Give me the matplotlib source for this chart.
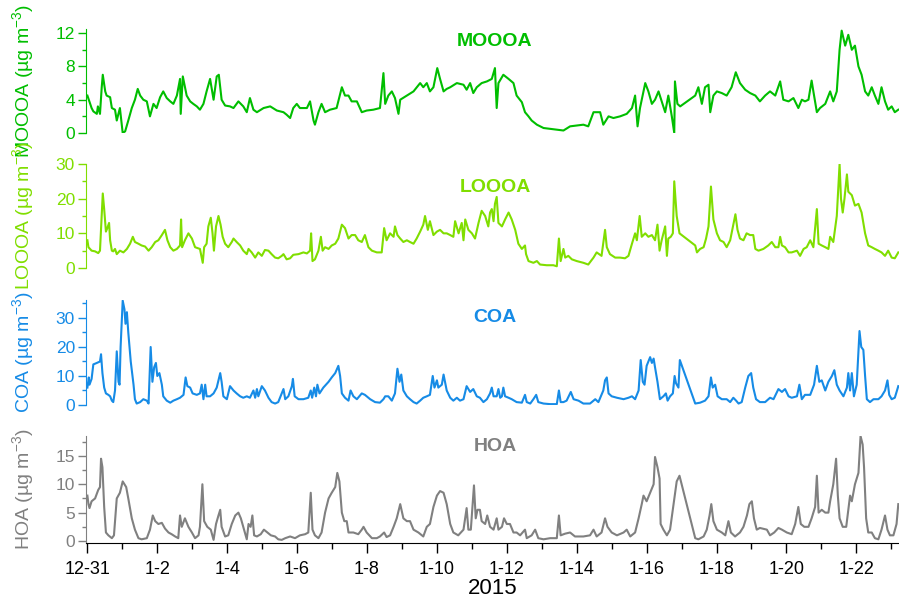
import matplotlib
matplotlib.use("Agg")
import matplotlib.pyplot as plt
from matplotlib.ticker import MultipleLocator, FixedLocator

plt.rcParams['font.family'] = ['Liberation Sans', 'DejaVu Sans']
plt.rcParams['mathtext.fontset'] = 'custom'
plt.rcParams['mathtext.rm'] = 'Liberation Sans'
plt.rcParams['mathtext.it'] = 'Liberation Sans:italic'

# time axis: days since 2014-12-31 00:00
tick_days = [0, 2, 4, 6, 8, 10, 12, 14, 16, 18, 20, 22]
tick_labels = ["12-31", "1-2", "1-4", "1-6", "1-8", "1-10", "1-12",
               "1-14", "1-16", "1-18", "1-20", "1-22"]

moooa_t = [0.00, 0.12, 0.17, 0.27, 0.30, 0.36, 0.41, 0.44, 0.51, 0.55, 0.65, 0.70, 0.79, 0.84, 0.93,
           1.01, 1.08, 1.17, 1.27, 1.36, 1.44, 1.51, 1.60, 1.70, 1.79, 1.89, 1.98, 2.08, 2.17, 2.27,
           2.37, 2.46, 2.56, 2.65, 2.67, 2.73, 2.84, 2.94, 3.03, 3.13, 3.22, 3.32, 3.41, 3.51, 3.61,
           3.70, 3.76, 3.84, 3.94, 4.08, 4.18, 4.32, 4.46, 4.56, 4.65, 4.75, 4.85, 5.04, 5.23, 5.42,
           5.61, 5.70, 5.80, 5.89, 5.99, 6.08, 6.28, 6.37, 6.47, 6.51, 6.61, 6.70, 6.80, 6.94, 7.13,
           7.28, 7.37, 7.47, 7.56, 7.71, 7.85, 7.99, 8.18, 8.37, 8.47, 8.52, 8.61, 8.71, 8.80, 8.90,
           8.95, 9.14, 9.33, 9.52, 9.61, 9.71, 9.80, 9.90, 10.01, 10.09, 10.19, 10.28, 10.38, 10.57,
           10.76, 10.85, 10.95, 11.04, 11.14, 11.28, 11.43, 11.57, 11.66, 11.71, 11.76, 11.90, 12.05,
           12.19, 12.28, 12.43, 12.52, 12.62, 12.71, 12.86, 13.05, 13.24, 13.43, 13.62, 13.81, 14.00,
           14.19, 14.33, 14.48, 14.67, 14.76, 14.91, 15.05, 15.24, 15.43, 15.58, 15.67, 15.74, 15.81,
           15.96, 16.05, 16.15, 16.24, 16.34, 16.43, 16.53, 16.62, 16.72, 16.79, 16.81, 16.88, 16.96,
           17.39, 17.48, 17.58, 17.67, 17.77, 17.82, 17.91, 18.01, 18.15, 18.29, 18.43, 18.55, 18.67,
           18.82, 18.96, 19.11, 19.24, 19.39, 19.53, 19.68, 19.82, 19.91, 20.06, 20.20, 20.34, 20.44,
           20.53, 20.63, 20.72, 20.77, 20.87, 20.96, 21.11, 21.25, 21.34, 21.44, 21.52, 21.58, 21.68,
           21.77, 21.87, 21.96, 22.06, 22.15, 22.25, 22.34, 22.44, 22.53, 22.63, 22.72, 22.82, 22.91,
           23.01, 23.10, 23.20]
moooa = [4.5, 3.0, 2.6, 2.3, 3.2, 2.3, 5.5, 7.0, 5.0, 4.5, 4.3, 3.0, 2.8, 1.5, 3.0,
         0.0, 0.2, 1.5, 3.0, 4.0, 5.3, 4.5, 4.0, 3.8, 2.0, 3.5, 3.0, 4.3, 5.0, 4.2,
         3.8, 3.5, 4.5, 6.5, 2.3, 6.8, 4.5, 3.8, 3.5, 3.2, 2.8, 3.5, 5.0, 6.5, 4.0,
         6.8, 7.0, 4.0, 3.3, 3.2, 3.0, 3.8, 3.2, 2.5, 4.2, 2.8, 2.5, 3.0, 3.2, 2.7,
         2.5, 2.2, 1.8, 3.0, 3.5, 3.0, 3.0, 3.8, 1.5, 1.0, 2.5, 3.5, 2.5, 2.8, 3.0,
         5.5, 4.5, 4.5, 3.8, 3.8, 2.5, 2.7, 2.8, 3.0, 7.2, 3.5, 4.5, 5.0, 4.2, 2.3,
         4.0, 4.5, 5.0, 6.0, 5.5, 6.0, 5.0, 5.5, 7.8, 6.5, 5.0, 5.3, 5.5, 6.0,
         5.8, 5.2, 6.0, 4.8, 5.5, 6.0, 6.2, 6.5, 7.8, 3.0, 6.0, 7.0, 6.5,
         6.0, 4.5, 3.7, 2.5, 2.0, 1.5, 1.0, 0.6, 0.5, 0.4, 0.3, 0.8, 0.9,
         1.0, 0.8, 2.5, 2.5, 1.0, 2.0, 1.8, 2.0, 2.3, 3.0, 4.5, 0.8, 3.0,
         6.0, 5.0, 3.5, 4.0, 5.0, 3.8, 2.5, 4.5, 2.0, 0.0, 6.2, 3.5, 3.2,
         4.5, 5.5, 3.5, 5.5, 5.8, 2.5, 4.5, 5.0, 4.8, 4.5, 5.5, 7.3, 6.0,
         5.2, 4.8, 4.5, 3.8, 4.5, 5.0, 4.5, 6.2, 4.0, 3.8, 4.2, 3.0, 4.0,
         3.8, 4.0, 6.3, 5.0, 2.5, 3.0, 3.5, 5.0, 3.8, 5.0, 10.0, 12.3, 10.5,
         11.8, 10.0, 10.5, 8.0, 7.0, 5.0, 4.5, 5.5, 4.5, 3.5, 5.5, 3.8, 2.8,
         3.2, 2.5, 2.8]

looa_t = [0.00, 0.03, 0.12, 0.22, 0.31, 0.36, 0.41, 0.44, 0.48, 0.53, 0.57, 0.62, 0.65, 0.70, 0.74,
          0.79, 0.84, 0.93, 1.03, 1.13, 1.22, 1.30, 1.36, 1.46, 1.55, 1.65, 1.75, 1.84, 1.94, 2.03,
          2.13, 2.22, 2.29, 2.37, 2.46, 2.56, 2.65, 2.68, 2.71, 2.79, 2.89, 2.99, 3.08, 3.22, 3.30,
          3.34, 3.41, 3.46, 3.53, 3.58, 3.62, 3.68, 3.75, 3.81, 3.87, 3.94, 4.03, 4.13, 4.18, 4.27,
          4.37, 4.46, 4.56, 4.61, 4.70, 4.80, 4.89, 4.99, 5.08, 5.18, 5.27, 5.37, 5.46, 5.56, 5.61,
          5.70, 5.80, 5.89, 6.04, 6.18, 6.28, 6.37, 6.40, 6.44, 6.51, 6.61, 6.68, 6.73, 6.80, 6.90,
          6.99, 7.09, 7.18, 7.28, 7.37, 7.47, 7.56, 7.66, 7.75, 7.85, 7.94, 8.04, 8.14, 8.28, 8.42,
          8.49, 8.56, 8.66, 8.76, 8.80, 8.87, 8.95, 9.04, 9.14, 9.23, 9.33, 9.42, 9.52, 9.61, 9.66,
          9.74, 9.80, 9.90, 10.00, 10.09, 10.19, 10.28, 10.38, 10.47, 10.52, 10.62, 10.71, 10.76,
          10.81, 10.90, 11.00, 11.09, 11.19, 11.28, 11.38, 11.47, 11.52, 11.57, 11.62, 11.66, 11.71,
          11.76, 11.86, 11.95, 12.05, 12.14, 12.24, 12.33, 12.43, 12.52, 12.55, 12.62, 12.76, 12.86,
          12.95, 13.14, 13.33, 13.43, 13.49, 13.54, 13.62, 13.67, 13.76, 13.86, 14.00, 14.19, 14.33,
          14.48, 14.57, 14.71, 14.81, 14.86, 14.95, 15.10, 15.24, 15.38, 15.48, 15.58, 15.67, 15.72,
          15.80, 15.86, 15.96, 16.05, 16.15, 16.24, 16.31, 16.37, 16.43, 16.53, 16.58, 16.62, 16.69,
          16.75, 16.79, 16.86, 16.94, 17.39, 17.44, 17.53, 17.63, 17.70, 17.77, 17.84, 17.91, 18.01,
          18.10, 18.20, 18.29, 18.39, 18.47, 18.54, 18.60, 18.67, 18.77, 18.86, 18.96, 19.05, 19.11,
          19.20, 19.34, 19.48, 19.58, 19.68, 19.77, 19.82, 19.87, 19.96, 20.06, 20.15, 20.30, 20.39,
          20.49, 20.58, 20.68, 20.77, 20.87, 20.92, 21.01, 21.11, 21.20, 21.25, 21.34, 21.44, 21.52,
          21.56, 21.61, 21.66, 21.73, 21.77, 21.87, 21.96, 22.06, 22.15, 22.25, 22.34, 22.44, 22.53,
          22.63, 22.72, 22.82, 22.91, 23.01, 23.10, 23.20]
looa = [8.0, 6.0, 5.0, 4.8, 4.3, 5.0, 15.0, 21.5, 17.0, 10.5, 11.5, 13.0, 8.0, 5.0, 4.8,
        5.5, 4.0, 5.0, 4.5, 5.5, 7.0, 9.0, 7.5, 7.0, 6.5, 6.2, 5.0, 6.0, 7.5, 8.0,
        9.5, 11.0, 8.0, 6.0, 5.0, 5.5, 6.5, 14.0, 6.0, 8.0, 10.0, 8.5, 6.0, 5.5, 1.5,
        6.0, 7.0, 12.0, 14.5, 10.0, 5.0, 12.0, 15.0, 12.5, 9.0, 7.0, 6.0, 7.5, 8.5, 7.5,
        6.5, 5.0, 4.0, 5.5, 4.5, 3.0, 4.5, 3.5, 5.2, 5.0, 4.0, 3.0, 2.8, 3.5, 4.0,
        2.5, 2.8, 3.8, 4.0, 4.5, 4.2, 5.0, 10.0, 2.0, 2.5, 5.0, 9.0, 5.0, 6.0, 5.5,
        6.5, 7.0, 8.5, 12.5, 11.5, 8.5, 9.5, 9.5, 8.0, 7.5, 9.5, 6.0, 5.0, 4.5, 4.5,
        11.5, 8.0, 10.0, 9.0, 12.0, 9.5, 8.5, 7.5, 8.0, 7.5, 7.0, 8.5, 10.5, 12.5, 15.0,
        11.0, 13.5, 9.5, 10.5, 11.0, 10.0, 10.0, 9.5, 9.0, 13.5, 10.0, 13.0, 8.0,
        14.0, 11.0, 10.0, 8.5, 13.0, 16.5, 15.0, 12.0, 16.0, 17.0, 13.5, 18.5, 20.5,
        13.0, 12.0, 14.0, 16.0, 14.0, 11.0, 7.0, 5.5, 6.5, 4.0, 2.0, 1.5, 2.0,
        1.0, 0.8, 0.8, 0.5, 8.5, 2.0, 5.5, 3.0, 3.5, 2.5, 2.0, 1.5, 1.0,
        3.0, 4.5, 3.5, 11.0, 6.0, 4.0, 3.0, 3.0, 2.8, 3.5, 7.0, 10.0, 8.0,
        15.0, 9.0, 10.0, 9.0, 9.5, 8.0, 12.5, 5.0, 8.0, 12.0, 3.5, 8.5, 9.0,
        10.0, 25.0, 15.0, 10.0, 6.5, 4.5, 5.5, 6.0, 8.5, 12.0, 23.5, 14.0, 10.0,
        8.0, 7.5, 6.0, 8.0, 12.0, 15.5, 11.0, 8.5, 8.0, 10.0, 9.5, 9.5, 5.5,
        5.0, 5.5, 6.5, 7.5, 6.0, 6.0, 9.0, 6.5, 6.0, 4.5, 4.5, 5.0, 3.5,
        5.5, 6.0, 8.0, 6.0, 17.0, 7.0, 6.5, 6.0, 5.5, 9.0, 7.5, 15.0, 30.0,
        20.0, 16.0, 20.0, 27.0, 22.0, 21.0, 18.0, 18.5, 16.0, 10.0, 6.5, 6.0, 5.5,
        5.0, 4.5, 3.5, 5.0, 3.0, 2.8, 4.5]

coa_t = [0.00, 0.04, 0.06, 0.12, 0.17, 0.27, 0.36, 0.39, 0.43, 0.48, 0.53, 0.60, 0.65, 0.70, 0.74,
         0.79, 0.84, 0.89, 0.92, 0.95, 1.01, 1.06, 1.09, 1.13, 1.17, 1.24, 1.32, 1.36, 1.41, 1.51,
         1.60, 1.70, 1.75, 1.81, 1.86, 1.91, 1.96, 2.00, 2.06, 2.13, 2.17, 2.27, 2.37, 2.46, 2.56,
         2.65, 2.75, 2.81, 2.86, 2.94, 3.01, 3.13, 3.22, 3.27, 3.32, 3.37, 3.41, 3.51, 3.61, 3.70,
         3.80, 3.84, 3.89, 3.99, 4.08, 4.18, 4.27, 4.37, 4.46, 4.56, 4.65, 4.75, 4.80, 4.85, 4.89,
         4.99, 5.08, 5.18, 5.27, 5.37, 5.46, 5.56, 5.61, 5.66, 5.75, 5.85, 5.88, 5.93, 6.04, 6.18,
         6.32, 6.39, 6.43, 6.49, 6.54, 6.58, 6.64, 6.75, 6.90, 6.99, 7.09, 7.18, 7.23, 7.28, 7.37,
         7.47, 7.53, 7.61, 7.71, 7.85, 7.94, 8.09, 8.23, 8.37, 8.47, 8.52, 8.61, 8.71, 8.80, 8.87,
         8.93, 8.98, 9.04, 9.14, 9.23, 9.33, 9.42, 9.52, 9.61, 9.71, 9.80, 9.88, 9.93, 10.00, 10.04,
         10.14, 10.19, 10.28, 10.38, 10.47, 10.57, 10.66, 10.76, 10.85, 10.95, 11.04, 11.14, 11.23,
         11.33, 11.43, 11.52, 11.57, 11.62, 11.71, 11.76, 11.81, 11.86, 11.90, 11.95, 12.05, 12.14,
         12.28, 12.43, 12.52, 12.57, 12.67, 12.76, 12.84, 12.90, 13.05, 13.24, 13.43, 13.49, 13.54,
         13.62, 13.71, 13.83, 13.91, 14.05, 14.19, 14.38, 14.53, 14.62, 14.76, 14.81, 14.86, 14.91,
         15.00, 15.15, 15.34, 15.48, 15.58, 15.67, 15.77, 15.83, 15.89, 15.94, 16.00, 16.10, 16.15,
         16.20, 16.24, 16.31, 16.38, 16.48, 16.55, 16.60, 16.67, 16.75, 16.80, 16.84, 16.91, 16.95,
         17.39, 17.53, 17.67, 17.77, 17.84, 17.89, 17.96, 18.03, 18.15, 18.29, 18.39, 18.48, 18.56,
         18.63, 18.72, 18.82, 18.91, 18.99, 19.05, 19.13, 19.24, 19.39, 19.53, 19.63, 19.77, 19.87,
         19.96, 20.06, 20.15, 20.30, 20.37, 20.44, 20.53, 20.68, 20.79, 20.87, 20.94, 21.01, 21.11,
         21.20, 21.30, 21.37, 21.44, 21.52, 21.63, 21.73, 21.77, 21.82, 21.87, 21.93, 22.01, 22.09,
         22.14, 22.20, 22.25, 22.30, 22.39, 22.49, 22.63, 22.72, 22.82, 22.89, 22.94, 23.01, 23.10,
         23.15, 23.20]
coa = [6.0, 9.5, 7.0, 9.0, 14.0, 14.5, 15.0, 17.5, 11.0, 6.0, 4.0, 3.5, 3.0, 1.5, 1.0,
       5.0, 18.5, 8.0, 7.0, 20.0, 36.0, 33.0, 28.0, 32.0, 25.0, 15.0, 7.0, 2.0, 0.5, 1.0,
       2.0, 1.5, 0.5, 20.0, 8.0, 13.0, 14.5, 10.0, 11.0, 7.0, 3.0, 1.5, 0.8, 1.5, 2.0,
       2.5, 3.5, 9.5, 6.5, 6.0, 4.0, 3.5, 4.0, 7.0, 2.0, 7.0, 3.0, 3.0, 4.0, 6.0,
       11.0, 8.0, 3.0, 2.0, 6.5, 5.0, 4.0, 3.0, 2.5, 3.0, 2.5, 5.0, 2.5, 5.5, 3.0,
       6.5, 5.0, 2.5, 1.0, 0.5, 1.0, 4.0, 5.5, 2.0, 3.0, 6.5, 9.0, 3.0, 2.0, 2.0,
       2.5, 5.0, 2.5, 6.0, 3.0, 7.0, 4.0, 6.0, 8.0, 9.5, 11.0, 13.5, 10.0, 4.0, 2.5,
       1.5, 5.0, 3.0, 2.0, 4.0, 3.5, 2.0, 1.0, 0.8, 2.0, 3.0, 3.0, 1.5, 4.0, 12.5,
       8.0, 10.5, 5.0, 3.0, 2.0, 1.0, 0.5, 1.5, 2.5, 3.0, 3.5, 10.0, 6.0, 8.5, 6.0,
       7.0, 10.5, 5.0, 2.5, 1.5, 2.5, 1.5, 2.0, 6.5, 4.5, 5.5, 3.0, 2.5,
       1.0, 2.0, 4.0, 6.0, 3.0, 3.0, 5.5, 2.5, 3.0, 6.0, 3.0, 2.5, 2.0,
       1.0, 0.8, 3.5, 1.0, 0.5, 2.0, 3.5, 1.0, 0.5, 0.3, 0.3, 5.0, 1.0,
       1.0, 1.5, 4.5, 2.0, 1.5, 0.5, 0.5, 2.0, 1.0, 5.0, 8.5, 9.5, 4.0,
       3.0, 2.5, 2.0, 2.5, 3.0, 2.0, 5.0, 15.5, 8.0, 7.0, 13.5, 16.5, 14.5,
       16.0, 13.0, 8.0, 2.0, 3.0, 4.0, 1.5, 3.0, 4.0, 10.0, 7.5, 6.0, 15.5,
       0.5, 0.8, 1.5, 3.0, 9.5, 6.0, 7.0, 3.0, 2.0, 2.0, 1.0, 2.5, 1.5,
       0.5, 1.0, 6.0, 10.0, 11.0, 6.0, 2.0, 1.0, 1.0, 2.5, 2.0, 5.5, 4.5,
       5.5, 3.0, 2.5, 3.0, 7.0, 2.0, 3.5, 3.5, 7.0, 13.5, 8.0, 8.5, 5.0,
       8.0, 10.0, 12.0, 7.0, 5.0, 3.0, 6.0, 11.0, 5.0, 11.0, 3.0, 7.0, 25.5,
       20.0, 19.0, 10.0, 2.0, 1.0, 2.0, 2.0, 3.0, 5.0, 8.5, 3.5, 2.0, 2.5,
       4.5, 6.5]

hoa_t = [0.00, 0.03, 0.06, 0.12, 0.22, 0.31, 0.36, 0.39, 0.43, 0.48, 0.53, 0.60, 0.70, 0.76, 0.84,
         0.93, 1.01, 1.11, 1.17, 1.27, 1.36, 1.46, 1.55, 1.70, 1.79, 1.87, 1.94, 2.03, 2.13, 2.22,
         2.32, 2.41, 2.51, 2.60, 2.65, 2.70, 2.79, 2.89, 2.99, 3.08, 3.18, 3.22, 3.29, 3.34, 3.43,
         3.53, 3.61, 3.68, 3.75, 3.80, 3.84, 3.94, 4.03, 4.13, 4.23, 4.32, 4.39, 4.46, 4.56, 4.61,
         4.67, 4.72, 4.77, 4.85, 4.96, 5.05, 5.15, 5.25, 5.37, 5.46, 5.56, 5.66, 5.80, 5.94, 6.08,
         6.23, 6.32, 6.39, 6.44, 6.51, 6.61, 6.70, 6.80, 6.90, 6.99, 7.09, 7.15, 7.21, 7.28, 7.35,
         7.42, 7.47, 7.61, 7.75, 7.85, 7.90, 7.99, 8.14, 8.28, 8.37, 8.49, 8.56, 8.66, 8.76, 8.85,
         8.95, 9.04, 9.14, 9.23, 9.33, 9.47, 9.61, 9.71, 9.80, 9.90, 10.00, 10.09, 10.19, 10.28,
         10.38, 10.47, 10.61, 10.76, 10.85, 10.90, 10.97, 11.06, 11.11, 11.16, 11.23, 11.28, 11.38,
         11.44, 11.52, 11.62, 11.71, 11.76, 11.86, 11.92, 12.00, 12.09, 12.19, 12.28, 12.38, 12.52,
         12.57, 12.71, 12.81, 12.90, 13.05, 13.24, 13.43, 13.49, 13.54, 13.67, 13.81, 13.95, 14.19,
         14.38, 14.48, 14.57, 14.71, 14.81, 14.88, 15.00, 15.15, 15.34, 15.43, 15.53, 15.67, 15.77,
         15.86, 15.91, 16.00, 16.10, 16.20, 16.24, 16.31, 16.37, 16.40, 16.48, 16.58, 16.67, 16.77,
         16.86, 16.94, 17.39, 17.48, 17.63, 17.72, 17.80, 17.85, 17.91, 18.01, 18.15, 18.25, 18.34,
         18.41, 18.53, 18.67, 18.77, 18.87, 18.94, 19.01, 19.07, 19.15, 19.24, 19.44, 19.53, 19.65,
         19.77, 19.87, 20.01, 20.15, 20.25, 20.34, 20.41, 20.51, 20.63, 20.72, 20.82, 20.87, 20.92,
         21.01, 21.11, 21.20, 21.25, 21.34, 21.42, 21.47, 21.52, 21.61, 21.71, 21.82, 21.87, 21.96,
         22.06, 22.12, 22.18, 22.22, 22.28, 22.34, 22.44, 22.53, 22.63, 22.72, 22.82, 22.89, 22.96,
         23.06, 23.15, 23.20]
hoa = [8.0, 6.5, 5.8, 7.0, 7.5, 9.0, 9.5, 14.5, 13.0, 6.0, 1.5, 1.0, 0.5, 1.0, 7.5,
       8.5, 10.5, 9.5, 7.5, 4.0, 2.0, 0.5, 0.3, 0.5, 2.0, 4.5, 3.5, 3.0, 3.2, 2.2,
       1.5, 1.2, 0.8, 0.5, 4.5, 2.5, 4.0, 2.5, 1.5, 0.5, 1.0, 2.5, 10.0, 3.5, 2.5,
       2.0, 0.2, 3.0, 4.5, 5.5, 2.5, 0.8, 1.0, 3.0, 4.5, 5.0, 4.0, 2.5, 0.3, 3.0,
       2.5, 4.5, 1.0, 0.8, 1.2, 2.0, 1.5, 1.0, 0.8, 0.3, 0.2, 0.5, 0.8, 0.5, 1.0,
       1.2, 1.5, 8.5, 2.0, 1.0, 0.5, 1.5, 5.0, 7.5, 8.5, 9.5, 12.0, 10.5, 5.0, 3.5,
       3.5, 1.5, 1.5, 1.2, 2.0, 2.5, 1.5, 0.5, 0.5, 0.8, 1.5, 0.7, 1.0, 2.5, 4.0,
       6.5, 4.0, 3.5, 3.5, 2.0, 1.5, 0.8, 2.5, 3.0, 6.0, 8.0, 8.8, 8.5, 6.5,
       3.0, 1.5, 1.0, 2.0, 5.8, 2.0, 2.0, 9.8, 4.0, 5.5, 5.5, 3.5, 3.0,
       4.5, 2.5, 2.0, 4.0, 2.0, 2.5, 4.0, 3.0, 3.0, 1.5, 1.5, 1.0, 2.0,
       0.5, 1.0, 2.0, 0.5, 0.3, 0.5, 0.5, 4.5, 1.0, 1.3, 1.5, 0.8, 0.8,
       1.0, 2.0, 0.8, 1.5, 4.0, 2.5, 1.5, 1.0, 1.5, 2.0, 0.8, 1.5, 4.0,
       6.5, 8.0, 7.0, 8.5, 10.0, 14.8, 13.0, 11.0, 3.0, 2.0, 1.0, 2.0, 6.5,
       10.5, 11.5, 0.5, 0.3, 0.8, 2.0, 4.5, 6.5, 3.5, 2.0, 1.5, 1.0, 3.5,
       1.5, 0.8, 1.5, 2.5, 4.5, 6.5, 7.0, 4.0, 2.0, 2.3, 2.0, 1.0, 1.5,
       2.3, 2.0, 1.5, 1.2, 3.0, 6.0, 3.0, 2.5, 2.5, 4.0, 6.0, 11.5, 5.0,
       5.5, 5.0, 5.0, 7.0, 10.0, 14.5, 8.0, 4.0, 2.5, 2.5, 8.0, 7.0, 10.0,
       12.0, 18.5, 17.0, 13.0, 4.0, 1.5, 1.5, 0.5, 0.3, 2.0, 4.5, 2.0, 1.0,
       1.0, 3.0, 6.5]

names = ["MOOOA", "LOOOA", "COA", "HOA"]
colors = ["#00BE00", "#80DE00", "#168BE6", "#808080"]
series = [(moooa_t, moooa), (looa_t, looa), (coa_t, coa), (hoa_t, hoa)]
ylims = [(0, 12.5), (0, 30), (0, 36.2), (-0.35, 18.5)]
ymajor = [4, 10, 10, 5]
yminor = [2, 5, 5, 2.5]
title_y = [0.875, 0.77, 0.83, 0.905]
# panel extents in pixels: (top, bottom)
panels = [(29, 133), (164, 268), (300, 405), (436, 543)]

W, H = 899, 603
fig = plt.figure(figsize=(W / 100, H / 100), dpi=100)

axes = []
for i, (top, bot) in enumerate(panels):
    ax = fig.add_axes([86 / W, 1 - bot / H, (W - 86) / W, (bot - top) / H])
    c = colors[i]
    t, v = series[i]
    ax.plot(t, v, color=c, lw=1.5)
    ax.set_xlim(-0.04, 23.22)
    ax.set_ylim(*ylims[i])
    ax.yaxis.set_major_locator(MultipleLocator(ymajor[i]))
    ax.yaxis.set_minor_locator(MultipleLocator(yminor[i]))
    for s in ("top", "right"):
        ax.spines[s].set_visible(False)
    ax.spines["left"].set_color(c)
    ax.tick_params(axis="y", which="major", colors=c, length=6, width=1, labelsize=12.5, pad=2)
    ax.tick_params(axis="y", which="minor", colors=c, length=3, width=1)
    ax.set_ylabel(names[i] + " (µg m$^{-3}$)", color=c, fontsize=14)
    ax.yaxis.set_label_coords(-0.062, 0.5)
    ax.text(0.503, title_y[i], names[i], transform=ax.transAxes, color=c,
            fontsize=14, fontweight="bold", ha="center", va="center")
    ax.patch.set_visible(False)
    if i < 3:
        ax.spines["bottom"].set_visible(False)
        ax.tick_params(axis="x", which="both", bottom=False, labelbottom=False)
    else:
        ax.xaxis.set_major_locator(FixedLocator(tick_days))
        ax.set_xticklabels(tick_labels)
        ax.xaxis.set_minor_locator(MultipleLocator(1))
        ax.tick_params(axis="x", which="major", length=7, width=1, labelsize=13, pad=6)
        ax.tick_params(axis="x", which="minor", length=4, width=1)
        ax.set_xlabel("2015", fontsize=16, labelpad=0)
    axes.append(ax)

fig.savefig("out.png", dpi=100)
